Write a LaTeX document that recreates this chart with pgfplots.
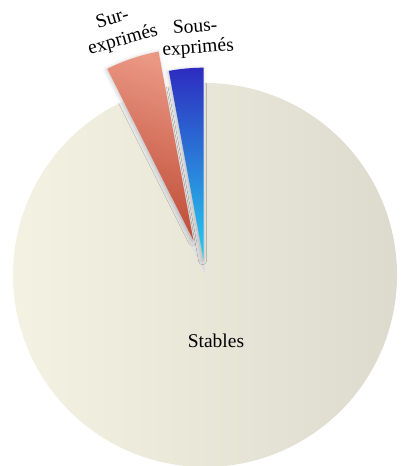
\documentclass[border=0pt]{standalone}
\usepackage{fontspec}
\setmainfont{Liberation Serif}
\usepackage{pgfplots}
\pgfplotsset{compat=1.18}
\usepackage{pgfplotstable}
\usetikzlibrary{shadows.blur}

\definecolor{stabA}{HTML}{F5F4E4}
\definecolor{stabB}{HTML}{DAD9CC}
\definecolor{surA}{HTML}{EA9783}
\definecolor{surB}{HTML}{BE4B35}
\definecolor{sousA}{HTML}{2D2CC0}
\definecolor{sousB}{HTML}{27CEF1}
\definecolor{gapA}{HTML}{F4F4F4}
\definecolor{gapB}{HTML}{DDDDDD}

% share in percent, explode in radius units
\pgfplotstableread{
label value explode
Sous 2.9 0.08
Sur 4.5 0.19
Stables 92.6 0
}\piedata

\begin{document}
\begin{tikzpicture}
\pgfplotstablegetelem{0}{value}\of\piedata \let\vSous\pgfplotsretval
\pgfplotstablegetelem{1}{value}\of\piedata \let\vSur\pgfplotsretval
\pgfplotstablegetelem{0}{explode}\of\piedata \let\eSous\pgfplotsretval
\pgfplotstablegetelem{1}{explode}\of\piedata \let\eSur\pgfplotsretval
\pgfmathsetmacro{\aA}{90}
\pgfmathsetmacro{\aB}{\aA+3.6*\vSous}
\pgfmathsetmacro{\aC}{\aB+3.6*\vSur}
\pgfmathsetmacro{\mSous}{(\aA+\aB)/2}
\pgfmathsetmacro{\mSur}{(\aB+\aC)/2}
\pgfmathsetmacro{\xSous}{\eSous*cos(\mSous)}
\pgfmathsetmacro{\ySous}{\eSous*sin(\mSous)}
\pgfmathsetmacro{\xSur}{\eSur*cos(\mSur)}
\pgfmathsetmacro{\ySur}{\eSur*sin(\mSur)}
\def\R{192bp}
\begin{axis}[
    name=ax,
    hide axis,
    scale only axis,
    width=403bp, height=466bp,
    xmin=-1.067708, xmax=1.03125,
    ymin=-0.994792, ymax=1.432292,
    clip=false,
]
% empty wedge left by the exploded slices
\shade[top color=gapA, bottom color=gapB] (axis cs:0,0) -- (axis cs:{cos(\aA)},{sin(\aA)})
    arc[start angle=\aA, end angle=\aC, radius=\R] -- cycle;
% Stables
\shade[left color=stabA, right color=stabB]
    (axis cs:0,0) -- (axis cs:{cos(\aC)},{sin(\aC)})
    arc[start angle=\aC, end angle=450, radius=\R] -- cycle;
% Sur-exprimés
\shade[top color=surA, bottom color=surB, shading angle=-18,
       blur shadow={shadow xshift=-1pt, shadow yshift=-1pt, shadow blur radius=4pt, shadow opacity=22}]
    (axis cs:\xSur,\ySur) -- (axis cs:{\xSur+cos(\aB)},{\ySur+sin(\aB)})
    arc[start angle=\aB, end angle=\aC, radius=\R] -- cycle;
% Sous-exprimés
\shade[top color=sousA, bottom color=sousB,
       blur shadow={shadow xshift=-1pt, shadow yshift=-1pt, shadow blur radius=4pt, shadow opacity=22}]
    (axis cs:\xSous,\ySous) -- (axis cs:{\xSous+cos(\aA)},{\ySous+sin(\aA)})
    arc[start angle=\aA, end angle=\aB, radius=\R] -- cycle;
% labels
\tikzset{lbl/.style={inner sep=0pt, font=\fontsize{19.5bp}{23bp}\selectfont}}
\node[lbl, rotate=16] at (axis cs:-0.484,1.339) {Sur-};
\node[lbl, rotate=16] at (axis cs:-0.427,1.222) {exprimés};
\node[lbl, rotate=4] at (axis cs:-0.052,1.297) {Sous-};
\node[lbl, rotate=4] at (axis cs:-0.036,1.180) {exprimés};
\node[lbl] at (axis cs:0.057,-0.344) {Stables};
\end{axis}
\pgfresetboundingbox
\path (ax.south west) rectangle (ax.north east);
\end{tikzpicture}
\end{document}
